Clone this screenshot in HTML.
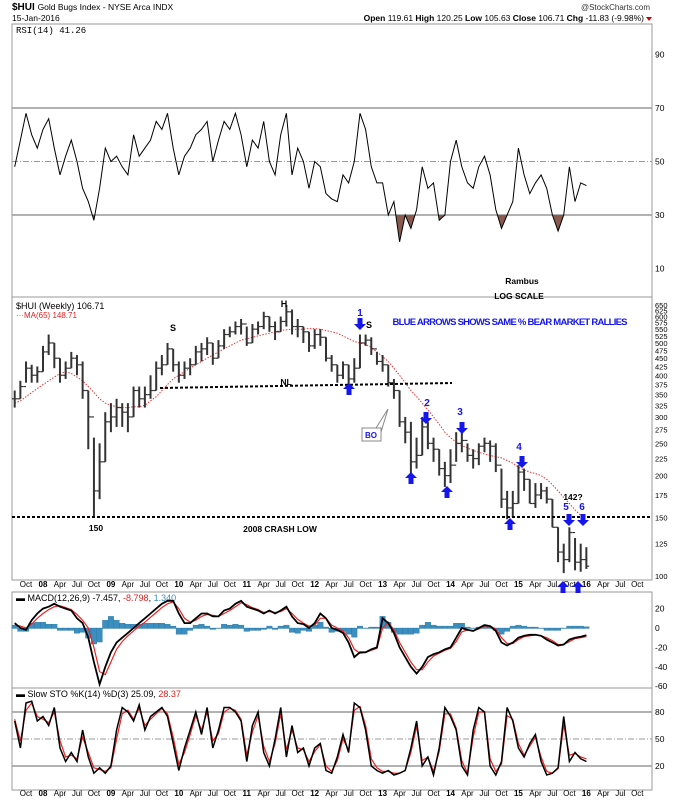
<!DOCTYPE html>
<html><head><meta charset="utf-8"><style>
body{margin:0;background:#fff}
svg{display:block;font-family:"Liberation Sans",sans-serif}
</style></head><body>
<svg id="c" width="674" height="800" viewBox="0 0 674 800" xmlns="http://www.w3.org/2000/svg">
<defs><clipPath id="below30"><rect x="12" y="215" width="640" height="82"/></clipPath></defs>
<rect x="0" y="0" width="674" height="800" fill="#fff"/>
<g>
<text x="12" y="10" font-size="10" font-weight="bold">$HUI <tspan font-weight="normal" font-size="8.5">Gold Bugs Index - NYSE Arca INDX</tspan></text>
<text x="12" y="21" font-size="8.5">15-Jan-2016</text>
<text x="650" y="10" font-size="8" text-anchor="end" fill="#333">@StockCharts.com</text>
<text x="644" y="21" font-size="8.5" text-anchor="end"><tspan font-weight="bold">Open</tspan> 119.61 <tspan font-weight="bold">High</tspan> 120.25 <tspan font-weight="bold">Low</tspan> 105.63 <tspan font-weight="bold">Close</tspan> 106.71 <tspan font-weight="bold">Chg</tspan> -11.83 (-9.98%)</text>
<path d="M646 17 L652 17 L649 21 Z" fill="#c00"/>
</g>
<rect x="12" y="24" width="640" height="273" fill="none" stroke="#999"/>
<rect x="12" y="297" width="640" height="283" fill="none" stroke="#999"/>
<rect x="12" y="592" width="640" height="96" fill="none" stroke="#999"/>
<rect x="12" y="688" width="640" height="102" fill="none" stroke="#999"/>
<text x="16" y="33" font-size="9" font-family="Liberation Mono,monospace">RSI(14) 41.26</text>
<text x="16" y="309" font-size="9">$HUI (Weekly) 106.71</text>
<text x="16" y="318" font-size="8" fill="#d22">···MA(65) 148.71</text>
<text x="16" y="601" font-size="9">▬ MACD(12,26,9) -7.457, <tspan fill="#d22">-8.798</tspan>, <tspan fill="#3a8fc0">1.340</tspan></text>
<text x="16" y="697" font-size="9">▬ Slow STO %K(14) %D(3) 25.09, <tspan fill="#d22">28.37</tspan></text>
<g id="rsiG"></g><g id="priceG"></g><g id="macdG"></g><g id="stoG"></g><g id="axG"></g>
<g font-weight="bold" font-size="9">
<text x="284" y="307" text-anchor="middle">H</text>
<text x="173" y="331" text-anchor="middle">S</text>
<text x="369" y="328" text-anchor="middle">S</text>
<text x="286" y="385" text-anchor="middle" font-size="8.5">NL</text>
<line x1="160" y1="388" x2="452" y2="383" stroke="#000" stroke-width="2" stroke-dasharray="3,2"/>
<line x1="12" y1="517" x2="652" y2="517" stroke="#000" stroke-width="2" stroke-dasharray="3,2"/>
<text x="96" y="531" text-anchor="middle" font-size="8.5">150</text>
<text x="280" y="532" text-anchor="middle" font-size="8.5">2008 CRASH LOW</text>
<text x="573" y="500" text-anchor="middle" font-size="8.5">142?</text>
<text x="510" y="325" text-anchor="middle" fill="#1515ee" font-size="9.5" textLength="235">BLUE ARROWS SHOWS SAME % BEAR MARKET RALLIES</text>
<text x="522" y="284" text-anchor="middle" font-size="8.5">Rambus</text>
<text x="519" y="299" text-anchor="middle" font-size="8.5">LOG SCALE</text>
<path d="M362 428 L381 428 L381 441 L362 441 Z" fill="#fff" stroke="#888"/>
<path d="M376 428 L388 409 L381 432" fill="none" stroke="#888"/>
<text x="371" y="438" text-anchor="middle" fill="#1515ee" font-size="8">BO</text>
<g fill="#1515ee" font-size="10">
<text x="360" y="316" text-anchor="middle">1</text>
<text x="427" y="406" text-anchor="middle">2</text>
<text x="460" y="415" text-anchor="middle">3</text>
<text x="519" y="450" text-anchor="middle">4</text>
<text x="566" y="510" text-anchor="middle">5</text>
<text x="582" y="510" text-anchor="middle">6</text>
</g>
</g>
<g id="arrowsG" fill="#1515ee"></g>
</svg>
<script>
const closeV=[340,370,420,400,410, 470,500,450,400,420,450,430,360,300,180,220,290, 300,320,310,300,360,340,350,360,420,430,480,430, 400,420,430,470,480,500,450,490,530,540,560,570, 500,550,560,600,560,540,580,620,560,560,540,490, 530,520,450,430,400,430,390,420,500,510,480,440, 430,380,360,290,270,220,230,280,250,240,210,200, 215,250,255,230,225,245,250,245,215,170,160,165, 205,195,165,175,180,170,140,118,112,135,110,112, 107];
const highV=[360,385,440,430,425, 490,530,500,450,440,470,460,440,360,260,250,310, 330,340,330,330,370,370,370,400,440,460,500,480, 440,440,450,490,500,520,500,510,550,560,580,590, 560,570,580,620,600,580,600,650,630,590,560,540, 550,550,520,460,430,440,430,450,530,530,520,470, 460,430,390,360,300,290,260,300,290,260,240,220, 240,270,270,250,240,250,260,255,250,210,180,180, 215,210,195,190,190,185,170,140,125,140,130,125, 122];
const lowV=[320,340,380,380,380, 410,460,420,380,390,420,400,340,240,150,170,220, 270,280,280,270,300,320,320,340,360,400,430,410, 380,390,400,430,440,460,430,450,480,520,530,530, 490,500,530,550,540,510,540,560,530,520,500,470, 480,490,440,410,380,390,370,380,420,490,460,430, 410,370,340,280,250,200,210,230,240,220,200,185, 190,220,235,220,210,215,235,220,205,160,148,150, 165,180,165,160,170,165,140,110,102,110,104,103, 105];
const maV=[330,335,345,355,365, 375,385,395,405,410,405,395,385,370,355,340,330, 325,322,320,320,322,322,325,335,345,360,375,390, 400,410,420,430,440,450,460,470,480,490,500,510, 515,520,525,530,535,540,545,548,550,550,550,552, 552,550,545,540,535,525,515,505,500,495,485,470, 455,440,420,400,380,360,345,330,315,300,285,270, 260,252,246,242,238,235,232,230,228,226,222,218, 212,208,205,203,200,195,188,180,172,165,158,152, 148];
const rsiV=[48,58,68,60,55, 62,66,55,45,52,58,50,40,35,28,40,55, 50,52,48,45,60,52,55,58,65,62,68,55, 45,52,55,60,62,65,50,58,65,62,68,60, 48,58,55,65,50,45,60,68,45,55,50,40, 50,48,38,36,35,45,42,50,68,62,48,42, 42,30,35,20,30,25,32,48,40,42,28,30, 50,58,48,42,40,48,52,45,32,25,30,35, 55,45,38,42,45,40,30,24,30,48,35,42, 41];
const macdV=[5,0,-2,8,15, 20,22,25,22,20,18,10,5,-10,-35,-58,-40, -25,-15,-10,-5,0,5,10,15,20,25,28,28, 15,5,5,10,15,15,12,12,18,20,25,28, 22,20,18,15,18,15,18,22,12,5,4,0, 5,15,10,0,-2,-5,-15,-30,-25,-25,-22,-20, 10,5,-5,-20,-30,-40,-47,-40,-30,-27,-25,-22, -20,-10,0,-2,-3,0,3,2,-3,-15,-18,-15, -10,-8,-7,-7,-8,-12,-15,-18,-17,-12,-10,-9, -7.5];
const signalV=[3,2,0,4,10, 15,19,22,23,21,19,14,8,0,-20,-45,-48, -35,-22,-14,-8,-3,2,6,11,16,21,25,27, 20,10,6,8,12,14,13,12,15,18,22,26, 24,21,19,16,17,16,17,20,15,9,5,2, 3,10,10,3,0,-3,-10,-22,-26,-25,-23,-21, 0,6,-2,-15,-25,-35,-43,-43,-35,-29,-26,-23, -21,-14,-4,-2,-3,-1,2,2,-1,-10,-16,-16, -12,-9,-8,-7,-8,-10,-13,-17,-17,-14,-11,-10, -8.8];
const histV=[3,-3,-3,5,6, 6,4,4,-2,-2,-2,-5,-4,-10,-16,-14,8, 12,8,5,4,4,4,5,5,5,5,4,2, -6,-6,-2,3,4,2,-1,0,4,3,4,3, -3,-2,-2,-1,2,-1,2,3,-4,-5,-2,-3, 3,6,1,-4,-3,-3,-6,-9,2,0,1,1, 12,6,-4,-6,-6,-6,-5,3,6,3,2,2, 2,5,5,1,0,1,2,1,-2,-6,-3,2, 3,2,1,1,0,-2,-2,-2,0,2,2,2, 1.3];
const kV=[70,40,90,92,70, 75,65,85,40,25,35,25,60,30,12,18,12, 20,60,85,80,70,88,60,75,80,85,75,45, 15,40,60,80,55,85,40,60,85,85,80,70, 25,65,80,35,20,50,85,30,65,35,40,20, 40,45,15,12,30,55,35,90,85,60,20,15, 12,15,10,12,15,40,70,20,30,10,40,85, 75,60,20,10,60,85,80,20,10,25,85,70, 40,30,45,55,25,10,12,18,75,25,35,28, 25];
const dV=[72,48,82,90,75, 72,68,80,48,30,32,28,52,35,18,16,14, 18,50,78,82,72,84,65,72,78,84,78,52, 22,35,55,76,60,80,48,56,80,84,82,72, 32,58,76,42,25,45,78,38,60,40,38,25, 36,44,20,14,26,50,38,82,86,65,28,18, 14,14,12,12,15,35,64,26,30,14,36,78, 78,62,26,12,52,80,80,28,14,22,76,72, 45,32,42,52,30,14,12,17,66,32,34,30, 28];
const xTickLabels=["Oct","08","Apr","Jul","Oct","09","Apr","Jul","Oct","10","Apr","Jul","Oct","11","Apr","Jul","Oct","12","Apr","Jul","Oct","13","Apr","Jul","Oct","14","Apr","Jul","Oct","15","Apr","Jul","Oct","16","Apr","Jul","Oct"];
const priceTicks=[650,625,600,575,550,525,500,475,450,425,400,375,350,325,300,275,250,225,200,175,150,125,100];
const rsiTicks=[90,70,50,30,10];
const macdTicks=[20,0,-20,-40,-60];
const stoTicks=[80,50,20];

const NS="http://www.w3.org/2000/svg";
function el(p,t,a){const e=document.createElementNS(NS,t);for(const k in a)e.setAttribute(k,a[k]);p.appendChild(e);return e;}
const X=i=>43+(i-5)*5.66;
const Yp=v=>576-Math.log(v/100)*144.8;
const Yr=v=>108+(70-v)*2.675;
const Ym=v=>628-v*0.97;
const Ys=v=>766-(v-20)*0.9;
const pathOf=(arr,Y)=>arr.map((v,i)=>(i?'L':'M')+X(i).toFixed(1)+' '+Y(v).toFixed(1)).join(' ');

const rg=document.getElementById('rsiG');
[70,30].forEach(v=>{const l=el(rg,'line',{x1:12,x2:652,y1:Yr(v),y2:Yr(v),stroke:'#999','stroke-width':1.5});

});
const l50=el(rg,'line',{x1:12,x2:652,y1:Yr(50),y2:Yr(50),stroke:'#999','stroke-dasharray':'6,2,1,2'});


rsiTicks.forEach(v=>{const t=el(rg,'text',{x:655,y:Yr(v)+3,'font-size':8.5});t.textContent=v;

});
const fillD=pathOf(rsiV,Yr)+` L${X(rsiV.length-1)} ${Yr(30)} L${X(0)} ${Yr(30)} Z`;
const rf=el(rg,'path',{d:fillD,fill:'#8b5a4e','clip-path':'url(#below30)'});


const rl=el(rg,'path',{d:pathOf(rsiV,Yr),fill:'none',stroke:'#000','stroke-width':1});



const pg=document.getElementById('priceG');
priceTicks.forEach(v=>{const t=el(pg,'text',{x:655,y:Yp(v)+3,'font-size':7.5});t.textContent=v;

});
const ma=el(pg,'path',{d:pathOf(maV,Yp),fill:'none',stroke:'#e33','stroke-width':1,'stroke-dasharray':'1.5,1.5'});


closeV.forEach((c,i)=>{const g=el(pg,'g',{stroke:'#333','stroke-width':2});


const x=X(i);
el(g,'line',{x1:x,x2:x,y1:Yp(highV[i]),y2:Yp(lowV[i])});
el(g,'line',{x1:x,x2:x+2.8,y1:Yp(c),y2:Yp(c),'stroke-width':1.2});
const o=i?closeV[i-1]:c;
el(g,'line',{x1:x-2.8,x2:x,y1:Yp(o),y2:Yp(o),'stroke-width':1.2});});

const mg=document.getElementById('macdG');
macdTicks.forEach(v=>{const t=el(mg,'text',{x:655,y:Ym(v)+3,'font-size':8.5});t.textContent=v;

});
histV.forEach((h,i)=>{const y0=Ym(0),y1=Ym(h);const r=el(mg,'rect',{x:X(i)-2.8,width:5.6,y:Math.min(y0,y1),height:Math.abs(y1-y0)+0.5,fill:'#3a8fc0',stroke:'#1f6a93','stroke-width':0.3});

});
const sg=el(mg,'path',{d:pathOf(signalV,Ym),fill:'none',stroke:'#e22','stroke-width':1.2});


const ml=el(mg,'path',{d:pathOf(macdV,Ym),fill:'none',stroke:'#000','stroke-width':1.8});



const stg=document.getElementById('stoG');
[80,20].forEach(v=>{const l=el(stg,'line',{x1:12,x2:652,y1:Ys(v),y2:Ys(v),stroke:'#999','stroke-width':1.5});

});
const s50=el(stg,'line',{x1:12,x2:652,y1:Ys(50),y2:Ys(50),stroke:'#999','stroke-dasharray':'6,2,1,2'});


stoTicks.forEach(v=>{const t=el(stg,'text',{x:655,y:Ys(v)+3,'font-size':8.5});t.textContent=v;

});
const dl=el(stg,'path',{d:pathOf(dV,Ys),fill:'none',stroke:'#e22','stroke-width':1.2});


const kl=el(stg,'path',{d:pathOf(kV,Ys),fill:'none',stroke:'#000','stroke-width':1.5});



const ag=document.getElementById('axG');
xTickLabels.forEach((lab,j)=>{const i=2+j*3;
[587,796].forEach(y=>{const t=el(ag,'text',{x:X(i),y:y,'font-size':8,'text-anchor':'middle','font-weight':/\d/.test(lab)?'bold':'normal'});t.textContent=lab;

});});

const ar=document.getElementById('arrowsG');
function arrow(x,y,down){const d=down?`M${x-2.5} ${y} h5 v6 h3.5 L${x} ${y+12} L${x-6} ${y+6} h3.5 Z`:`M${x} ${y} L${x+6} ${y+6} h-3.5 v6 h-5 v-6 h-3.5 Z`;
const p=el(ar,'path',{d:d});

}
arrow(360,318,true);arrow(426,412,true);arrow(462,422,true);arrow(522,456,true);arrow(569,514,true);arrow(583,514,true);
arrow(349,383,false);arrow(411,472,false);arrow(447,486,false);arrow(510,518,false);arrow(563,581,false);arrow(578,581,false);
</script>
</body></html>
